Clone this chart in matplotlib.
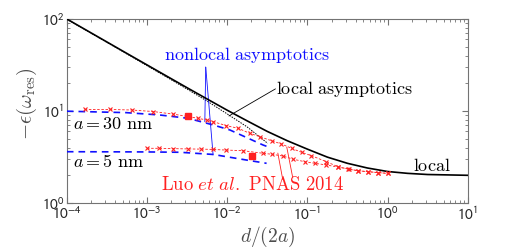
import numpy as np
import matplotlib
matplotlib.use("Agg")
import matplotlib.pyplot as plt

plt.rcParams["mathtext.fontset"] = "cm"

# ── Data ──────────────────────────────────────────────────────────────────────
# local (solid black)
local_d   = [1e-4, 1.78e-4, 3.16e-4, 5.62e-4, 1e-3, 1.78e-3, 3.16e-3, 5.62e-3,
             1e-2, 1.78e-2, 3.16e-2, 5.62e-2, 0.1, 0.178, 0.316, 0.562,
             1.0, 1.78, 3.16, 5.62, 10.0]
local_eps = [100, 75, 56.3, 42.2, 31.7, 23.8, 17.9, 13.5,
             10.2, 7.8, 6.0, 4.75, 3.85, 3.15, 2.7, 2.4,
             2.2, 2.1, 2.04, 2.02, 2.0]

# local asymptotics (dotted black)
lasy_d   = [1e-4, 1.78e-4, 3.16e-4, 5.62e-4, 1e-3, 1.78e-3, 3.16e-3, 5.62e-3,
            1e-2, 1.78e-2, 3.2e-2]
lasy_eps = [99.5, 74.5, 55.8, 41.7, 31.1, 23.2, 17.3, 12.8, 9.3, 6.7, 4.45]

# nonlocal asymptotics (dashed blue)
nl30_d   = [1e-4, 5.5e-4, 1.44e-3, 3.25e-3, 6.7e-3, 1.08e-2, 2.8e-2, 3.2e-2]
nl30_eps = [9.95, 9.6, 9.05, 8.33, 7.05, 6.22, 4.27, 4.09]
nl5_d    = [1e-4, 1e-3, 2.57e-3, 6.7e-3, 1.74e-2, 3.1e-2]
nl5_eps  = [3.61, 3.59, 3.56, 3.37, 2.93, 2.70]

# Luo et al. PNAS 2014 (red crosses)
luo30_d = [1.67e-4, 3.44e-4, 6.41e-4, 1.19e-3, 2.11e-3, 4.34e-3, 5.52e-3, 6.68e-3,
           9.8e-3, 1.37e-2, 1.91e-2, 2.55e-2, 3.57e-2, 4.75e-2, 6.34e-2, 8.45e-2,
           0.112, 0.173, 0.24, 0.32, 0.43, 0.57, 0.76, 1.0]
luo30_eps = [10.4, 10.4, 10.25, 9.87, 9.26, 8.33, 7.98, 7.66,
             6.92, 6.49, 5.72, 5.26, 4.75, 4.38, 3.93, 3.56,
             3.27, 2.81, 2.48, 2.34, 2.24, 2.19, 2.14, 2.10]
luo5_d = [1e-3, 1.42e-3, 2.11e-3, 3.25e-3, 4.78e-3, 6.68e-3, 9.8e-3, 1.58e-2,
          2.8e-2, 3.57e-2, 4.97e-2, 6.64e-2, 9.3e-2, 0.124, 0.173, 0.24,
          0.33, 0.43, 0.57, 0.76, 1.0]
luo5_eps = [3.93, 3.93, 3.9, 3.87, 3.85, 3.82, 3.76, 3.7,
            3.47, 3.39, 3.24, 2.99, 2.81, 2.70, 2.59, 2.46,
            2.34, 2.24, 2.19, 2.14, 2.10]

# gap = 0.2 nm markers (red squares)
sq_d   = [3.26e-3, 2.01e-2]
sq_eps = [8.82, 3.27]

xticks = [1e-4, 1e-3, 1e-2, 1e-1, 1e0, 1e1]
xticklabels = [r"$10^{-4}$", r"$10^{-3}$", r"$10^{-2}$", r"$10^{-1}$", r"$10^{0}$", r"$10^{1}$"]
yticks = [1e0, 1e1, 1e2]
yticklabels = [r"$10^{0}$", r"$10^{1}$", r"$10^{2}$"]

blue = "#1010ff"
red = "#ff2020"

# ── Figure ────────────────────────────────────────────────────────────────────
fig = plt.figure(figsize=(5.18, 2.5), dpi=100)
ax = fig.add_axes([0.129, 0.188, 0.774, 0.736])

ax.plot(local_d, local_eps, "-", color="black", lw=1.2, zorder=4)
ax.plot(lasy_d, lasy_eps, "--", color="black", lw=0.7, dashes=(1.5, 1.2), zorder=3)
ax.plot(nl30_d, nl30_eps, "--", color=blue, lw=1.2, dashes=(4, 3), zorder=3)
ax.plot(nl5_d, nl5_eps, "--", color=blue, lw=1.2, dashes=(4, 3), zorder=3)
ax.plot(luo30_d, luo30_eps, "--x", color=red, lw=0.6, ms=3.2, mew=0.8,
        dashes=(3, 2), zorder=5)
ax.plot(luo5_d, luo5_eps, "--x", color=red, lw=0.6, ms=3.2, mew=0.8,
        dashes=(3, 2), zorder=5)
ax.plot(sq_d, sq_eps, "s", color=red, ms=4.5, zorder=6)

ax.set_xscale("log")
ax.set_yscale("log")
ax.set_xlim(1e-4, 1e1)
ax.set_ylim(1, 100)
ax.set_xticks(xticks)
ax.set_xticklabels(xticklabels, fontsize=11, math_fontfamily="stixsans", color="0.15")
ax.set_yticks(yticks)
ax.set_yticklabels(yticklabels, fontsize=11, math_fontfamily="stixsans", color="0.15")
ax.tick_params(which="both", direction="in", top=True, right=True, color="0.45")
ax.tick_params(which="major", length=4, pad=2)
ax.tick_params(which="minor", length=2)
for s in ax.spines.values():
    s.set_color("0.45")
    s.set_linewidth(0.8)

ax.set_xlabel(r"$d/(2a)$", fontsize=14, labelpad=1, color="0.3")
ax.set_ylabel(r"$-\epsilon(\omega_{\rm res})$", fontsize=15, color="0.3", va="center")
ax.yaxis.set_label_coords(-0.1, 0.54)

# ── Annotations ───────────────────────────────────────────────────────────────
line_kw = dict(arrowstyle="-", lw=0.6, shrinkA=0, shrinkB=0)
ax.text(1.75e-2, 40.6, r"$\mathrm{nonlocal\ asymptotics}$", color=blue, fontsize=13,
        ha="center", va="center")
ax.annotate("", xy=(5.26e-3, 7.65), xytext=(5.4e-3, 30), arrowprops=dict(color=blue, **line_kw))
ax.annotate("", xy=(6.67e-3, 3.33), xytext=(5.4e-3, 30), arrowprops=dict(color=blue, **line_kw))

ax.text(4.1e-2, 17.4, r"$\mathrm{local\ asymptotics}$", color="black", fontsize=13,
        ha="left", va="center")
ax.annotate("", xy=(1.05e-2, 8.83), xytext=(4.0e-2, 17.4), arrowprops=dict(color="black", **line_kw))

ax.text(2.06, 2.53, r"$\mathrm{local}$", fontsize=13, ha="left", va="center")
ax.text(1.19e-4, 7.23, r"$a = 30\ \mathrm{nm}$", fontsize=13, ha="left", va="center")
ax.text(1.19e-4, 2.81, r"$a = 5\ \mathrm{nm}$", fontsize=13, ha="left", va="center")

ax.text(2.08e-2, 1.57, r"$\mathrm{Luo}\ et\ al.\ \mathrm{PNAS\ 2014}$", color=red, fontsize=13.5,
        ha="center", va="center")
ax.annotate("", xy=(4.28e-2, 3.49), xytext=(4.93e-2, 1.8), arrowprops=dict(color=red, **line_kw))
ax.annotate("", xy=(5.53e-2, 4.06), xytext=(6.58e-2, 1.87), arrowprops=dict(color=red, **line_kw))

fig.savefig("out.png", dpi=100)
